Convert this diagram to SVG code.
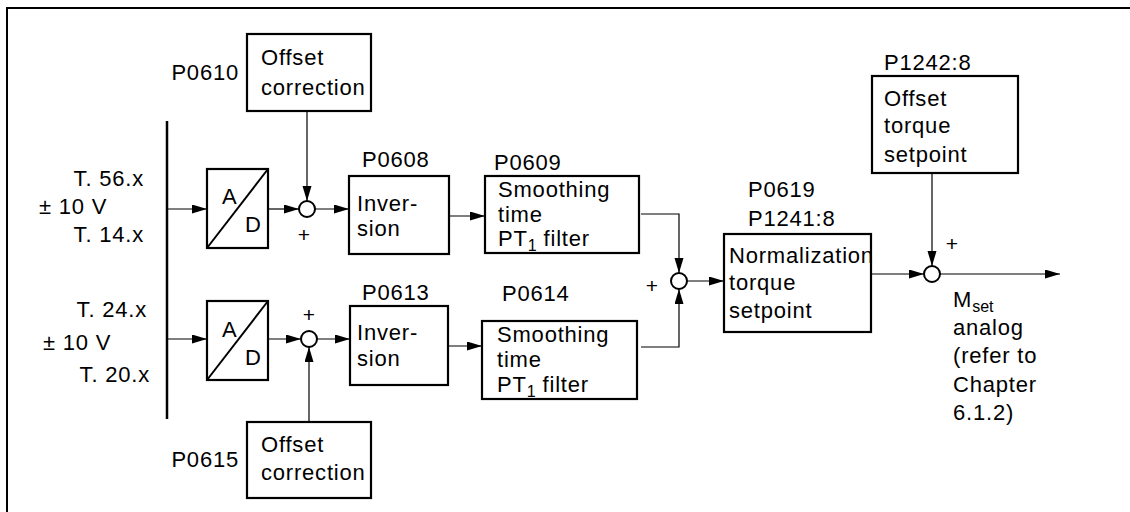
<svg xmlns="http://www.w3.org/2000/svg" width="1130" height="512" viewBox="0 0 1130 512">
<style>
text{font-family:"Liberation Sans",Arial,Helvetica,sans-serif;font-size:22px;letter-spacing:0.8px;fill:#000}
.box{fill:#fff;stroke:#000;stroke-width:2.2}
.sum{fill:#fff;stroke:#000;stroke-width:2}
.ln{fill:none;stroke:#000;stroke-width:1.2}
.ar{fill:none;stroke:#000;stroke-width:1.2;marker-end:url(#ah)}
.sub{font-size:16px;letter-spacing:0}
.pl{font-size:21px;letter-spacing:0}
</style>
<defs>
<marker id="ah" markerUnits="userSpaceOnUse" markerWidth="16" markerHeight="10" refX="15" refY="4.5" orient="auto">
<path d="M0,0 L15,4.5 L0,9 z" fill="#000"/>
</marker>
</defs>
<rect width="1130" height="512" fill="#fff"/>
<g id="frame"><path d="M7,512 L7,8 L1130,8" fill="none" stroke="#000" stroke-width="2"/></g>

<g id="connectors">
<line x1="167" y1="121" x2="167" y2="419" stroke="#000" stroke-width="2.5"/>
<path class="ar" d="M167,209 H207"/>
<path class="ar" d="M268,209 H299"/>
<path class="ar" d="M307,111 V201"/>
<path class="ar" d="M315,209 H349"/>
<path class="ar" d="M449,216 H485"/>
<path class="ar" d="M641,214 H679 V273"/>
<path class="ar" d="M167,339 H207"/>
<path class="ar" d="M268,339 H301"/>
<path class="ar" d="M309,422 V347"/>
<path class="ar" d="M317,339 H350"/>
<path class="ar" d="M448,346 H482"/>
<path class="ar" d="M641,347 H679 V289"/>
<path class="ar" d="M687,281 H724"/>
<path class="ar" d="M871,274 H924"/>
<path class="ar" d="M932,173 V266"/>
<path class="ar" d="M940,274 H1060"/>
</g>

<g id="inputs-top">
<text x="144" y="186" text-anchor="end">T. 56.x</text>
<text x="39" y="214">± 10 V</text>
<text x="144" y="242" text-anchor="end">T. 14.x</text>
</g>
<g id="inputs-bottom">
<text x="147" y="317" text-anchor="end">T. 24.x</text>
<text x="43" y="350">± 10 V</text>
<text x="150" y="382" text-anchor="end">T. 20.x</text>
</g>

<g id="ad-top">
<rect class="box" x="207" y="169" width="61" height="79"/>
<line x1="207" y1="248" x2="268" y2="169" stroke="#000" stroke-width="2"/>
<text x="222" y="204">A</text>
<text x="245" y="232">D</text>
</g>
<g id="ad-bottom">
<rect class="box" x="207" y="301" width="61" height="79"/>
<line x1="207" y1="380" x2="268" y2="301" stroke="#000" stroke-width="2"/>
<text x="222" y="337">A</text>
<text x="245" y="365">D</text>
</g>

<g id="offset-top">
<text x="239" y="80" text-anchor="end">P0610</text>
<rect class="box" x="247" y="34" width="124" height="77"/>
<text x="261" y="65">Offset</text>
<text x="261" y="95">correction</text>
</g>
<g id="offset-bottom">
<text x="239" y="467" text-anchor="end">P0615</text>
<rect class="box" x="247" y="422" width="124" height="76"/>
<text x="261" y="452">Offset</text>
<text x="261" y="480">correction</text>
</g>

<g id="sum-top">
<circle class="sum" cx="307" cy="209" r="8"/>
<text class="pl" x="304" y="242" text-anchor="middle">+</text>
</g>
<g id="sum-bottom">
<circle class="sum" cx="309" cy="339" r="8"/>
<text class="pl" x="309" y="322" text-anchor="middle">+</text>
</g>

<g id="inversion-top">
<text x="362" y="167">P0608</text>
<rect class="box" x="349" y="176" width="100" height="78"/>
<text x="357" y="211">Inver-</text>
<text x="357" y="236">sion</text>
</g>
<g id="inversion-bottom">
<text x="362" y="300">P0613</text>
<rect class="box" x="350" y="306" width="98" height="79"/>
<text x="357" y="340">Inver-</text>
<text x="357" y="366">sion</text>
</g>

<g id="smoothing-top">
<text x="494" y="170">P0609</text>
<rect class="box" x="485" y="176" width="154" height="77"/>
<text x="498" y="197">Smoothing</text>
<text x="498" y="222">time</text>
<text x="498" y="246">PT<tspan class="sub" dy="5">1</tspan><tspan dy="-5"> filter</tspan></text>
</g>
<g id="smoothing-bottom">
<text x="502" y="301">P0614</text>
<rect class="box" x="482" y="321" width="155" height="78"/>
<text x="497" y="342">Smoothing</text>
<text x="497" y="367">time</text>
<text x="497" y="392">PT<tspan class="sub" dy="5">1</tspan><tspan dy="-5"> filter</tspan></text>
</g>

<g id="sum-mid">
<circle class="sum" cx="679" cy="281" r="8"/>
<text class="pl" x="652" y="293" text-anchor="middle">+</text>
</g>

<g id="normalization">
<text x="748" y="197">P0619</text>
<text x="748" y="226">P1241:8</text>
<rect class="box" x="724" y="234" width="147" height="98"/>
<text x="729" y="263">Normalization</text>
<text x="729" y="290">torque</text>
<text x="729" y="318">setpoint</text>
</g>

<g id="offset-torque">
<text x="884" y="70">P1242:8</text>
<rect class="box" x="872" y="76" width="146" height="97"/>
<text x="884" y="106">Offset</text>
<text x="884" y="133">torque</text>
<text x="884" y="162">setpoint</text>
</g>

<g id="sum-out">
<circle class="sum" cx="932" cy="274" r="8"/>
<text class="pl" x="952" y="251" text-anchor="middle">+</text>
</g>

<g id="output-label">
<text x="953" y="307">M<tspan class="sub" dy="5">set</tspan></text>
<text x="953" y="335">analog</text>
<text x="953" y="363">(refer to</text>
<text x="953" y="392">Chapter</text>
<text x="953" y="420">6.1.2)</text>
</g>
</svg>
